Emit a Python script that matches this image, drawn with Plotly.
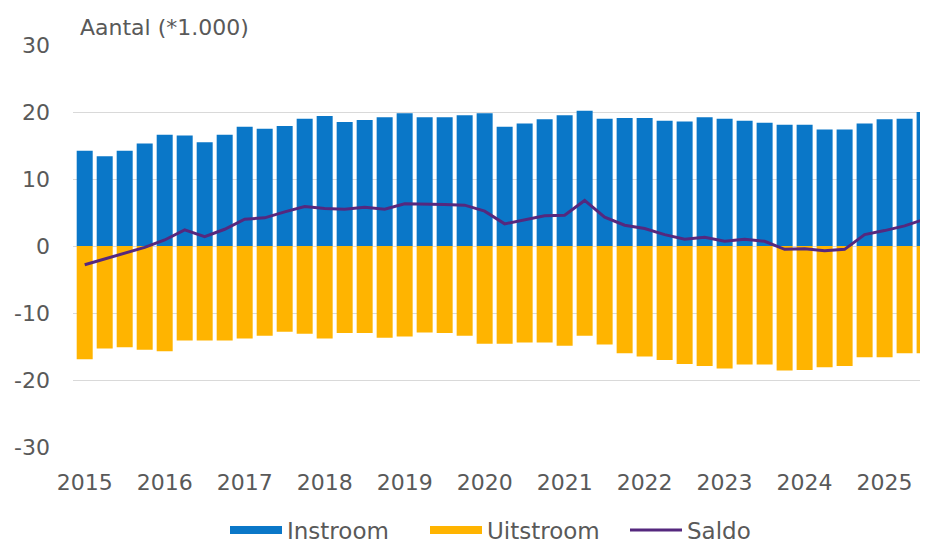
import plotly.graph_objects as go

quarters = [f"{y}Q{q}" for y in range(2015, 2026) for q in range(1, 5)][:43]
instroom = [14.2, 13.4, 14.2, 15.3, 16.6, 16.5, 15.5, 16.6, 17.8, 17.5, 17.9, 19.0,
            19.4, 18.5, 18.8, 19.2, 19.8, 19.2, 19.2, 19.5, 19.8, 17.8, 18.3, 18.9,
            19.5, 20.2, 19.0, 19.1, 19.1, 18.7, 18.6, 19.2, 19.0, 18.7, 18.4, 18.1,
            18.1, 17.4, 17.4, 18.3, 18.9, 19.0, 20.0]
uitstroom = [-16.9, -15.3, -15.1, -15.5, -15.7, -14.1, -14.1, -14.1, -13.8, -13.4, -12.8, -13.1,
             -13.8, -13.0, -13.0, -13.7, -13.5, -12.9, -13.0, -13.4, -14.6, -14.6, -14.4, -14.4,
             -14.9, -13.4, -14.7, -16.0, -16.5, -17.0, -17.6, -17.9, -18.3, -17.7, -17.7, -18.6,
             -18.5, -18.1, -17.9, -16.6, -16.6, -16.0, -16.0]
saldo = [-2.8, -1.9, -1.0, -0.2, 0.9, 2.4, 1.4, 2.5, 4.0, 4.2, 5.1, 5.9,
         5.6, 5.5, 5.8, 5.5, 6.3, 6.3, 6.2, 6.1, 5.2, 3.3, 3.9, 4.5,
         4.6, 6.8, 4.3, 3.1, 2.6, 1.7, 1.0, 1.3, 0.7, 1.0, 0.7, -0.5,
         -0.4, -0.7, -0.5, 1.7, 2.3, 3.0, 4.0]
year_labels = [str(y) for y in range(2015, 2026)]
y_ticks = [-30, -20, -10, 0, 10, 20, 30]
y_tick_labels = ["-30", "-20", "-10", "0", "10", "20", "30"]

BLUE = "#0A77C8"
ORANGE = "#FFB400"
PURPLE = "#55287E"
TXT = "#595959"
FONT = "DejaVu Sans"

# page has an 8px body margin: figure coordinates are page coordinates - 8
OFF = 8
PL, PT, PR, PB = 73 - OFF, 45 - OFF, 928 - OFF, 447 - OFF
W, H = 928, 543 - OFF
PW, PH = PR - PL, PB - PT

x = list(range(len(quarters)))

fig = go.Figure()
fig.add_trace(go.Bar(x=x, y=instroom, name="Instroom", marker_color=BLUE,
                     marker_line_width=0, showlegend=False, hovertext=quarters))
fig.add_trace(go.Bar(x=x, y=uitstroom, name="Uitstroom", marker_color=ORANGE,
                     marker_line_width=0, showlegend=False, hovertext=quarters))
fig.add_trace(go.Scatter(x=x, y=saldo, name="Saldo", mode="lines",
                         line=dict(color=PURPLE, width=3), showlegend=False,
                         hovertext=quarters))
# legend proxies
fig.add_trace(go.Scatter(x=[None], y=[None], name="Instroom", mode="lines",
                         line=dict(color=BLUE, width=8)))
fig.add_trace(go.Scatter(x=[None], y=[None], name="Uitstroom", mode="lines",
                         line=dict(color=ORANGE, width=8)))
fig.add_trace(go.Scatter(x=[None], y=[None], name="Saldo", mode="lines",
                         line=dict(color=PURPLE, width=3)))

fig.update_layout(
    width=W, height=H,
    margin=dict(l=PL, r=W - PR, t=PT, b=H - PB, autoexpand=False),
    paper_bgcolor="white", plot_bgcolor="white",
    barmode="relative", bargap=0.2,
    font=dict(family=FONT, size=21, color=TXT),
    legend=dict(orientation="h", x=(230 - OFF - 5 - PL) / PW, xanchor="left",
                y=(PB - (530 - OFF)) / PH, yanchor="middle",
                font=dict(size=23, color=TXT), itemwidth=52,
                entrywidth=133, tracegroupgap=0, traceorder="normal"),
    xaxis=dict(range=[-0.585, 42.17], tickmode="array",
               tickvals=[i * 4 for i in range(len(year_labels))],
               ticktext=year_labels, showgrid=False, zeroline=False,
               showline=False, ticks="", ticklabelstandoff=20,
               tickfont=dict(size=22, color=TXT)),
    yaxis=dict(range=[-30, 30], tickmode="array", tickvals=y_ticks,
               ticktext=y_tick_labels, showgrid=True, gridcolor="#D9D9D9",
               gridwidth=1, zeroline=False, showline=False, ticks="",
               ticklabelstandoff=22, tickfont=dict(size=22, color=TXT)),
    annotations=[dict(text="Aantal (*1.000)", xref="paper", yref="paper",
                      x=0, y=1 + (PT - (27 - OFF)) / PH, xanchor="left", yanchor="middle",
                      xshift=5, showarrow=False, font=dict(size=22, color=TXT))],
)

fig.write_html("out.html")
